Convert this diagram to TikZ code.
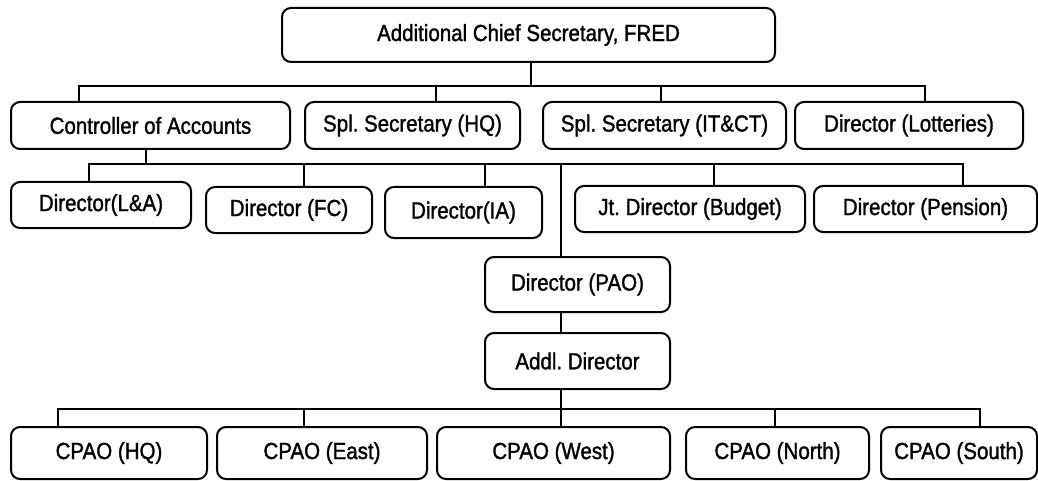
\documentclass[tikz,border=0pt]{standalone}
\usepackage{fontspec}
\setmainfont{Liberation Sans}[FakeStretch=0.88, FakeBold=1.4]
\frenchspacing
\usepackage{tikz}
\usetikzlibrary{positioning,calc}

\begin{document}
\begin{tikzpicture}[
    x=1pt, y=-1pt,
    box/.style={draw, rounded corners=9pt, line width=2pt, inner sep=0pt,
                font=\fontsize{23.3}{27}\selectfont},
    link/.style={line width=2.4pt}
]
\useasboundingbox (0,0) rectangle (1038,481);

% Head
\node[box, minimum width=493pt, minimum height=54pt] (acs) at (528.5,35) {Additional Chief Secretary, FRED};

% Second level
\node[box, minimum width=279pt, minimum height=47pt] (coa) at (150.5,125.5) {Controller of Accounts};
\node[box, minimum width=215pt, minimum height=47pt] (sshq) at (412.5,125.5) {Spl. Secretary (HQ)};
\node[box, minimum width=243pt, minimum height=47pt] (ssit) at (664.5,125.5) {Spl. Secretary (IT\&CT)};
\node[box, minimum width=228pt, minimum height=47pt] (dlot) at (909,125.5) {Director (Lotteries)};

% Directors
\node[box, minimum width=180pt, minimum height=46pt] (dla) at (101,205) {Director(L\&A)};
\node[box, minimum width=166pt, minimum height=46pt] (dfc) at (289,210) {Director (FC)};
\node[box, minimum width=157pt, minimum height=51pt] (dia) at (463.5,212.5) {Director(IA)};
\node[box, minimum width=230pt, minimum height=46pt] (jdb) at (690,209) {Jt. Director (Budget)};
\node[box, minimum width=223pt, minimum height=46pt] (dpen) at (925.5,209) {Director (Pension)};

% PAO chain
\node[box, minimum width=185pt, minimum height=55pt] (dpao) at (577.5,284.5) {Director (PAO)};
\node[box, minimum width=185pt, minimum height=56pt] (addl) at (577.5,361) {Addl. Director};

% CPAOs
\node[box, minimum width=196pt, minimum height=52pt] (chq) at (109,453) {CPAO (HQ)};
\node[box, minimum width=210pt, minimum height=52pt] (ceast) at (322,453) {CPAO (East)};
\node[box, minimum width=233pt, minimum height=52pt] (cwest) at (553.5,453) {CPAO (West)};
\node[box, minimum width=183pt, minimum height=52pt] (cnorth) at (777.5,453) {CPAO (North)};
\node[box, minimum width=156pt, minimum height=52pt] (csouth) at (959,453) {CPAO (South)};

% Bus lines
\coordinate (bus1) at (531,86);
\coordinate (bus2) at (146,164);
\coordinate (bus3) at (561,409);

\draw[link] ([xshift=2.5pt]acs.south) -- (bus1);
\draw[link] (bus1) -| ([xshift=-71.5pt]coa.north);
\draw[link] (bus1) -| ([xshift=23.5pt]sshq.north);
\draw[link] (bus1) -| ([xshift=-3.5pt]ssit.north);
\draw[link] (bus1) -| ([xshift=16pt]dlot.north);

\draw[link] ([xshift=-4.5pt]coa.south) -- (bus2);
\draw[link] (bus2) -| ([xshift=-12pt]dla.north);
\draw[link] (bus2) -| ([xshift=15pt]dfc.north);
\draw[link] (bus2) -| ([xshift=21.5pt]dia.north);
\draw[link] (bus2) -| ([xshift=-16.5pt]dpao.north);
\draw[link] (bus2) -| ([xshift=24pt]jdb.north);
\draw[link] (bus2) -| ([xshift=37.5pt]dpen.north);

\draw[link] ([xshift=-16.5pt]dpao.south) -- ([xshift=-16.5pt]addl.north);
\draw[link] ([xshift=-16.5pt]addl.south) -- ([xshift=7.5pt]cwest.north);
\draw[link] (bus3) -| ([xshift=-51pt]chq.north);
\draw[link] (bus3) -| ([xshift=-18pt]ceast.north);
\draw[link] (bus3) -| ([xshift=-2.5pt]cnorth.north);
\draw[link] (bus3) -| ([xshift=21pt]csouth.north);

\end{tikzpicture}
\end{document}
